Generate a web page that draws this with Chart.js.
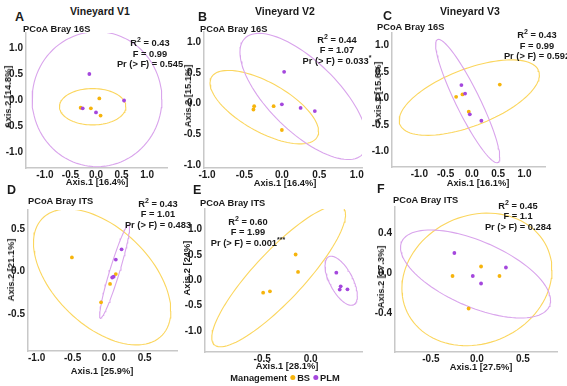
<!DOCTYPE html>
<html>
<head>
<meta charset="utf-8">
<script src="https://cdn.jsdelivr.net/npm/chart.js@4.4.1/dist/chart.umd.min.js"></script>
<style>
  body { margin: 0; background: #fff; }
  #fig { position: relative; width: 567px; height: 386px; overflow: hidden; font-family: "Liberation Sans", Arial, sans-serif; color: #1a1a1a; }
  #fig canvas { position: absolute; }
  .t { position: absolute; white-space: nowrap; font-weight: bold; }
  .c { transform: translate(-50%, -50%); }
  .l { transform: translateY(-50%); }
  .r90 { transform: translate(-50%, -50%) rotate(-90deg); }
  sup { font-size: 7px; line-height: 0; }
  .dot { display: inline-block; width: 5px; height: 5px; border-radius: 50%; margin: 0 2px 1px 3px; }
</style>
</head>
<body>
<div id="fig"></div>
<script>
// ---- data ----
const panelLetters = ["A", "B", "C", "D", "E", "F"];
const titles = ["Vineyard V1", "Vineyard V2", "Vineyard V3", "", "", ""];
const subtitles = ["PCoA Bray 16S", "PCoA Bray 16S", "PCoA Bray 16S", "PCoA Bray ITS", "PCoA Bray ITS", "PCoA Bray ITS"];
const axis1Pct = ["16.4%", "16.4%", "16.1%", "25.9%", "28.1%", "27.5%"];
const axis2Pct = ["14.8%", "15.1%", "15.6%", "21.1%", "24%", "17.3%"];
const r2Vals = ["0.43", "0.44", "0.43", "0.43", "0.60", "0.45"];
const fVals = ["0.99", "1.07", "0.99", "1.01", "1.99", "1.1"];
const prVals = ["0.545", "0.033", "0.592", "0.483", "0.001", "0.284"];
const prStars = ["", "*", "", "", "***", ""];

const xTicks = [
  [-1, -0.5, 0, 0.5, 1], [-1, -0.5, 0, 0.5, 1], [-1, -0.5, 0, 0.5, 1],
  [-1, -0.5, 0, 0.5], [-0.5, 0], [-0.5, 0, 0.5]
];
const yTicks = [
  [-1, -0.5, 0, 0.5, 1], [-1, -0.5, 0, 0.5, 1], [-1, -0.5, 0, 0.5, 1],
  [-0.5, 0, 0.5], [-1, -0.5, 0, 0.5, 1], [-0.4, 0, 0.4]
];
const xRanges = [[-1.37, 1.39], [-1.04, 1.07], [-1.52, 1.39], [-1.12, 0.95], [-1.09, 0.53], [-0.89, 0.87]];
const yRanges = [[-1.31, 1.29], [-1.05, 1.17], [-1.29, 1.23], [-0.93, 0.72], [-1.42, 1.41], [-0.79, 0.66]];

// sample coordinates (Axis.1, Axis.2)
const bsPoints = [
  [[0.065, 0.03], [-0.3, -0.15], [-0.1, -0.16], [0.09, -0.3]],
  [[-0.37, -0.04], [-0.38, -0.095], [-0.11, -0.04], [0.0, -0.43]],
  [[-0.3, 0.03], [-0.18, 0.075], [-0.06, -0.25], [0.53, 0.26]],
  [[-0.51, 0.165], [0.1, -0.03], [0.02, -0.145], [-0.105, -0.36]],
  [[-0.155, 0.51], [-0.13, 0.165], [-0.49, -0.245], [-0.42, -0.22]],
  [[0.045, 0.065], [-0.265, -0.03], [0.245, -0.03], [-0.09, -0.355]]
];
const plmPoints = [
  [[-0.13, 0.5], [0.55, -0.01], [-0.26, -0.16], [0.0, -0.24]],
  [[0.03, 0.52], [0.0, -0.01], [0.25, -0.07], [0.44, -0.12]],
  [[-0.2, 0.25], [-0.13, 0.09], [-0.04, -0.3], [0.18, -0.42]],
  [[0.18, 0.26], [0.1, 0.14], [0.07, -0.06], [0.05, -0.07]],
  [[0.265, 0.15], [0.31, -0.12], [0.3, -0.185], [0.38, -0.18]],
  [[-0.245, 0.2], [0.315, 0.055], [-0.045, -0.03], [0.045, -0.105]]
];
// ellipses: [centre x, centre y, half width, half height, correlation]
const bsEllipses = [
  [-0.065, -0.13, 0.65, 0.35, 0],
  [-0.235, -0.057, 0.725, 0.6, -0.66],
  [-0.05, 0.015, 1.333, 0.71, 0.6],
  [-0.09, -0.064, 0.954, 0.795, -0.5],
  [-0.33, 0.083, 0.69, 1.4, 0.87],
  [0.0, -0.064, 0.815, 0.663, 0.14]
];
const plmEllipses = [
  [0.02, 0.015, 1.27, 1.3, 0],
  [0.29, 0.118, 0.85, 1.03, -0.7],
  [-0.08, -0.05, 0.61, 1.16, -0.91],
  [0.083, 0.0, 0.208, 0.547, 0.94],
  [0.315, -0.01, 0.167, 0.485, -0.62],
  [-0.015, -0.01, 0.815, 0.44, -0.6]
];

// ---- layout (pixel boxes of each plot area and its texts) ----
const plotBoxes = [
  [26, 33, 167, 168.3], [204, 32, 361.7, 167.7], [392.3, 33, 545, 166.7],
  [27.7, 210, 176.7, 350.7], [205, 209, 361.7, 351.7], [395, 206.7, 556.7, 351.7]
];
const letterPos = [[15, 17], [198, 17], [383, 16], [7, 190], [193, 190], [377, 189]];
const titlePos = [[100, 11], [285, 11], [470, 11]];
const subPos = [[23, 29], [200, 28.5], [377, 27], [28, 201], [200, 203], [393, 200]];
const statPos = [[150, 43], [337, 39.5], [537, 35], [158, 203.5], [248, 221.7], [518, 205.5]];
const axis1Pos = [[97, 182], [285, 182.5], [478, 182.5], [102, 370.5], [287, 365.5], [481, 366.5]];
const axis2Pos = [[7.5, 97], [187.5, 96], [377.5, 93], [11, 270], [187, 268], [381, 277]];

const BS_PT = "#f6b40c", BS_EL = "#fbd65e";
const PLM_PT = "#a447dd", PLM_EL = "#d9a4ec";
const fig = document.getElementById("fig");

function addText(html, x, y, cls, size) {
    const d = document.createElement("div");
    d.className = "t " + cls;
    d.style.left = x + "px";
    d.style.top = y + "px";
    d.style.fontSize = size + "px";
    d.innerHTML = html;
    fig.appendChild(d);
}

function ellipsePath(p) {
    const [cx, cy, hx, hy, rho] = p;
    const pts = [];
    const s = Math.sqrt(1 - rho * rho);
    for (let i = 0; i <= 100; i++) {
        const t = (i / 100) * 2 * Math.PI;
        pts.push({ x: cx + hx * Math.cos(t), y: cy + hy * (rho * Math.cos(t) + s * Math.sin(t)) });
    }
    return pts;
}

const toXY = arr => arr.map(p => ({ x: p[0], y: p[1] }));

const PAD_L = 36, PAD_T = 6, PAD_R = 14, PAD_B = 16;
const tickFont = { family: "'Liberation Sans', Arial, sans-serif", size: 10, weight: "bold" };

panelLetters.forEach((letter, i) => {
    const [l, t, r, b] = plotBoxes[i];
    const canvas = document.createElement("canvas");
    canvas.width = Math.round(r - l + PAD_L + PAD_R);
    canvas.height = Math.round(b - t + PAD_T + PAD_B);
    canvas.style.left = (l - PAD_L) + "px";
    canvas.style.top = (t - PAD_T) + "px";
    fig.appendChild(canvas);

    const axisCommon = {
        type: "linear",
        grid: { display: true, color: "transparent", drawTicks: false },
        border: { display: true, color: "#c8c8c8", width: 1.5 },
        ticks: { font: tickFont, color: "#1a1a1a", autoSkip: false, maxRotation: 0, callback: v => v.toFixed(1) }
    };

    new Chart(canvas.getContext("2d"), {
        type: "scatter",
        data: {
            datasets: [
                { data: toXY(plmPoints[i]), backgroundColor: PLM_PT, borderWidth: 0, pointRadius: 1.9 },
                { data: toXY(bsPoints[i]), backgroundColor: BS_PT, borderWidth: 0, pointRadius: 1.9 },
                { data: ellipsePath(plmEllipses[i]), showLine: true, borderColor: PLM_EL, borderWidth: 1.1, pointRadius: 0, fill: false },
                { data: ellipsePath(bsEllipses[i]), showLine: true, borderColor: BS_EL, borderWidth: 1.1, pointRadius: 0, fill: false }
            ]
        },
        options: {
            responsive: false,
            animation: false,
            events: [],
            layout: { padding: { left: 0, top: PAD_T, right: PAD_R, bottom: 0 } },
            plugins: { legend: { display: false }, tooltip: { enabled: false } },
            scales: {
                x: {
                    ...axisCommon,
                    min: xRanges[i][0], max: xRanges[i][1],
                    ticks: { ...axisCommon.ticks, padding: 1 },
                    afterBuildTicks: s => { s.ticks = xTicks[i].map(v => ({ value: v })); },
                    afterFit: s => { s.height = PAD_B; s.paddingLeft = 0; s.paddingRight = 0; }
                },
                y: {
                    ...axisCommon,
                    min: yRanges[i][0], max: yRanges[i][1],
                    ticks: { ...axisCommon.ticks, padding: 3 },
                    afterBuildTicks: s => { s.ticks = yTicks[i].map(v => ({ value: v })); },
                    afterFit: s => { s.width = PAD_L; s.paddingTop = 0; s.paddingBottom = 0; }
                }
            }
        }
    });

    // texts
    addText(letter, letterPos[i][0], letterPos[i][1], "l", 12.5);
    if (titles[i]) addText(titles[i], titlePos[i][0], titlePos[i][1], "c", 10.5);
    addText(subtitles[i], subPos[i][0], subPos[i][1], "l", 9.3);
    const [sx, sy] = statPos[i];
    addText("R<sup>2</sup> = " + r2Vals[i], sx, sy, "c", 9.3);
    addText("F = " + fVals[i], sx, sy + 10.5, "c", 9.3);
    addText("Pr (&gt; F) = " + prVals[i] + (prStars[i] ? "<sup>" + prStars[i] + "</sup>" : ""), sx, sy + 21, "c", 9.3);
    addText("Axis.1 [" + axis1Pct[i] + "]", axis1Pos[i][0], axis1Pos[i][1], "c", 9.3);
    addText("Axis.2 [" + axis2Pct[i] + "]", axis2Pos[i][0], axis2Pos[i][1], "r90", 9.3);
});

// legend
addText('Management<span class="dot" style="background:' + BS_PT + '"></span>BS<span class="dot" style="background:' + PLM_PT + '"></span>PLM',
    285, 377.7, "c", 9.3);
</script>
</body>
</html>
